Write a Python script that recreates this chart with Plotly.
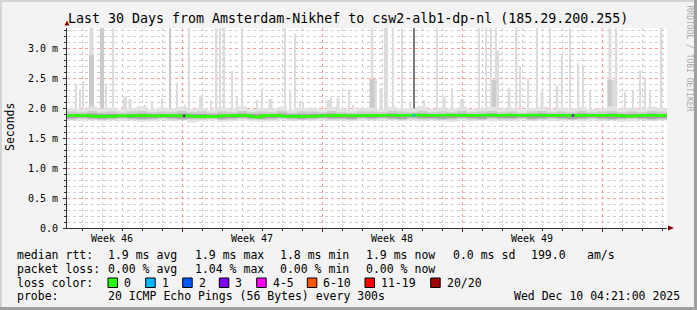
import numpy as np
import plotly.graph_objects as go

# ---------------- data (milliseconds, x in days since window start) ----------------
N_DAYS = 30
# median rtt, 120 bins of 6 hours
median_rtt = [
    1.876, 1.874, 1.877, 1.875, 1.872,
    1.862, 1.860, 1.864, 1.861, 1.863,
    1.870, 1.872, 1.868, 1.873, 1.871,
    1.874, 1.870, 1.872, 1.869, 1.873,
    1.871, 1.874, 1.872, 1.868, 1.870,
    1.858, 1.856, 1.860, 1.857, 1.859,
    1.862, 1.874, 1.876, 1.873, 1.877,
    1.875, 1.872, 1.852, 1.850, 1.874,
    1.877, 1.875, 1.873, 1.863, 1.860,
    1.864, 1.861, 1.859, 1.863, 1.862,
    1.866, 1.874, 1.876, 1.873, 1.877,
    1.875, 1.874, 1.876, 1.872, 1.875,
    1.877, 1.874, 1.876, 1.878, 1.880,
    1.879, 1.877, 1.880, 1.878, 1.881,
    1.879, 1.877, 1.880, 1.878, 1.876,
    1.879, 1.881, 1.878, 1.880, 1.877,
    1.879, 1.876, 1.880, 1.878, 1.881,
    1.879, 1.877, 1.880, 1.882, 1.878,
    1.880, 1.877, 1.879, 1.881, 1.878,
    1.876, 1.879, 1.877, 1.880, 1.878,
    1.876, 1.879, 1.877, 1.875, 1.878,
    1.880, 1.877, 1.879, 1.876, 1.878,
    1.877, 1.866, 1.864, 1.867, 1.875,
    1.877, 1.874, 1.878, 1.876, 1.877,
]

# smoke envelopes, 60 bins of 12 hours
smoke_outer_lo = [
    1.79, 1.78, 1.79, 1.78, 1.79, 1.78, 1.79, 1.77, 1.78, 1.79,
    1.78, 1.79, 1.76, 1.78, 1.79, 1.77, 1.78, 1.79, 1.78, 1.77,
    1.78, 1.79, 1.78, 1.79, 1.78, 1.79, 1.78, 1.79, 1.78, 1.79,
    1.79, 1.78, 1.79, 1.78, 1.79, 1.78, 1.79, 1.78, 1.77, 1.79,
    1.78, 1.79, 1.78, 1.79, 1.78, 1.79, 1.78, 1.79, 1.78, 1.78,
    1.79, 1.78, 1.79, 1.78, 1.79, 1.77, 1.78, 1.79, 1.78, 1.79,
]
smoke_outer_hi = [
    2.00, 1.98, 2.02, 1.99, 2.01, 1.97, 2.00, 2.03, 1.98, 2.01,
    1.99, 2.02, 1.98, 2.00, 1.97, 2.01, 1.99, 2.03, 1.98, 2.00,
    1.99, 2.02, 1.97, 2.00, 2.01, 1.98, 2.02, 1.99, 1.97, 2.00,
    2.01, 1.98, 2.02, 2.00, 1.99, 2.03, 1.98, 2.01, 1.99, 2.02,
    1.98, 2.00, 2.02, 1.99, 2.01, 1.97, 2.00, 2.02, 1.98, 2.01,
    1.99, 2.02, 1.98, 2.00, 2.03, 1.99, 2.01, 1.98, 2.02, 2.00,
]
smoke_mid_lo = [
    1.81, 1.82, 1.81, 1.80, 1.81, 1.82, 1.81, 1.80, 1.81, 1.82,
    1.81, 1.80, 1.81, 1.81, 1.82, 1.80, 1.81, 1.82, 1.81, 1.80,
    1.81, 1.82, 1.81, 1.80, 1.81, 1.82, 1.81, 1.81, 1.80, 1.82,
    1.81, 1.82, 1.81, 1.80, 1.82, 1.81, 1.81, 1.80, 1.81, 1.82,
    1.81, 1.80, 1.82, 1.81, 1.81, 1.82, 1.80, 1.81, 1.82, 1.81,
    1.80, 1.81, 1.82, 1.81, 1.80, 1.81, 1.82, 1.81, 1.80, 1.81,
]
smoke_mid_hi = [
    1.94, 1.93, 1.95, 1.93, 1.94, 1.92, 1.94, 1.95, 1.93, 1.94,
    1.93, 1.95, 1.93, 1.94, 1.92, 1.94, 1.93, 1.95, 1.93, 1.94,
    1.93, 1.95, 1.92, 1.94, 1.94, 1.93, 1.95, 1.93, 1.92, 1.94,
    1.94, 1.93, 1.95, 1.94, 1.93, 1.95, 1.93, 1.94, 1.93, 1.95,
    1.93, 1.94, 1.95, 1.93, 1.94, 1.92, 1.94, 1.95, 1.93, 1.94,
    1.93, 1.95, 1.93, 1.94, 1.95, 1.93, 1.94, 1.93, 1.95, 1.94,
]
smoke_inner_lo = [
    1.83, 1.84, 1.83, 1.82, 1.83, 1.84, 1.83, 1.82, 1.83, 1.84,
    1.83, 1.82, 1.83, 1.83, 1.84, 1.82, 1.83, 1.84, 1.83, 1.82,
    1.83, 1.84, 1.83, 1.82, 1.83, 1.84, 1.83, 1.83, 1.82, 1.84,
    1.83, 1.84, 1.83, 1.82, 1.84, 1.83, 1.83, 1.82, 1.83, 1.84,
    1.83, 1.82, 1.84, 1.83, 1.83, 1.84, 1.82, 1.83, 1.84, 1.83,
    1.82, 1.83, 1.84, 1.83, 1.82, 1.83, 1.84, 1.83, 1.82, 1.83,
]
smoke_inner_hi = [
    1.90, 1.90, 1.91, 1.90, 1.90, 1.89, 1.90, 1.91, 1.90, 1.90,
    1.90, 1.91, 1.90, 1.90, 1.89, 1.90, 1.90, 1.91, 1.90, 1.90,
    1.90, 1.91, 1.89, 1.90, 1.90, 1.90, 1.91, 1.90, 1.89, 1.90,
    1.90, 1.90, 1.91, 1.90, 1.90, 1.91, 1.90, 1.90, 1.90, 1.91,
    1.90, 1.90, 1.91, 1.90, 1.90, 1.89, 1.90, 1.91, 1.90, 1.90,
    1.90, 1.91, 1.90, 1.90, 1.91, 1.90, 1.90, 1.90, 1.91, 1.90,
]

# occasional slow pings (outliers) : position (day), top (ms), duration (day)
spike_day = [0.45, 0.65, 0.78, 1.22, 1.95, 2.30, 2.90, 3.15, 3.90, 4.25, 4.73, 5.15,
             5.50, 5.90, 6.10, 6.65, 6.73, 7.18, 7.48, 7.65, 7.85, 8.27, 8.52, 8.77,
             9.48, 9.77, 10.18, 10.90, 11.15, 11.40, 11.65, 11.80, 13.07, 13.20, 13.55,
             14.10, 14.30, 15.25, 15.32, 15.70, 15.88, 16.00, 16.28, 16.75, 17.15, 17.85,
             18.50, 18.85, 19.23, 19.75, 20.60, 20.95, 21.35, 21.20, 21.45, 21.55, 22.10,
             22.48, 22.65, 23.05, 23.48, 23.75, 24.15, 24.50, 24.73, 25.15, 25.53, 25.80,
             26.15, 27.20, 27.15, 27.48, 27.90, 28.30, 28.65, 28.90, 29.15, 29.70]
spike_top = [2.41, 2.31, 2.45, 3.40, 2.41, 3.40, 2.19, 2.15, 2.05, 2.12, 2.16, 3.40,
             2.42, 2.06, 3.40, 2.19, 2.22, 2.13, 3.40, 3.40, 3.40, 2.62, 2.18, 3.40,
             2.13, 2.27, 2.15, 3.40, 2.27, 3.24, 2.12, 2.10, 2.13, 2.18, 2.17,
             2.31, 2.05, 3.40, 2.48, 2.33, 3.40, 3.40, 3.40, 3.40, 2.10, 2.13,
             3.40, 2.19, 2.33, 2.15, 3.40, 3.40, 2.47, 3.40, 3.40, 2.95, 2.33,
             3.40, 2.69, 2.49, 3.40, 2.27, 3.40, 2.38, 2.88, 3.40, 2.74, 2.69,
             2.30, 2.47, 3.40, 3.40, 2.27, 2.30, 2.63, 2.49, 2.27, 3.40]
spike_len = [0.05, 0.05, 0.05, 0.20, 0.05, 0.07, 0.20, 0.15, 0.05, 0.05, 0.05, 0.08,
             0.07, 0.05, 0.08, 0.05, 0.05, 0.05, 0.07, 0.07, 0.08, 0.06, 0.05, 0.07,
             0.05, 0.05, 0.20, 0.07, 0.05, 0.06, 0.05, 0.05, 0.20, 0.05, 0.15,
             0.05, 0.05, 0.12, 0.35, 0.15, 0.05, 0.05, 0.06, 0.07, 0.05, 0.05,
             0.06, 0.15, 0.05, 0.20, 0.07, 0.07, 0.40, 0.06, 0.06, 0.05, 0.15,
             0.07, 0.05, 0.10, 0.06, 0.15, 0.07, 0.12, 0.05, 0.07, 0.05, 0.05,
             0.10, 0.40, 0.15, 0.07, 0.10, 0.10, 0.05, 0.05, 0.05, 0.12]
# slightly denser outliers
spike2_day = [1.22, 1.75, 5.15, 15.25, 21.35, 27.15]
spike2_top = [2.88, 3.40, 3.40, 2.48, 2.47, 2.47]
spike2_len = [0.25, 0.20, 0.06, 0.25, 0.20, 0.20]
# single-sample outage marker
dark_day = [17.35]
dark_top = [3.40]

# loss-coloured samples on the median line
loss_day = [5.85, 17.35, 25.30]
loss_rtt = [1.870, 1.878, 1.876]
loss_col = ["#4a3a6a", "#00b8ff", "#4a3a8a"]

week_pos = [2.25, 9.25, 16.25, 23.25]
week_lbl = ["Week 46", "Week 47", "Week 48", "Week 49"]
week_bounds = [5.75, 12.75, 19.75, 26.75]
ytick_vals = [0.0, 0.5, 1.0, 1.5, 2.0, 2.5, 3.0]
ytick_text = ["0.0", "0.5 m", "1.0 m", "1.5 m", "2.0 m", "2.5 m", "3.0 m"]

legend_rows = [
    [("median rtt:", 16), ("1.9 ms avg", 107), ("1.9 ms max", 194), ("1.8 ms min", 279),
     ("1.9 ms now", 365), ("0.0 ms sd", 451.5), ("199.0", 530), ("am/s", 586)],
    [("packet loss:", 16), ("0.00 % avg", 107), ("1.04 % max", 194), ("0.00 % min", 279),
     ("0.00 % now", 365)],
    [("loss color:", 16)],
    [("probe:", 16), ("20 ICMP Echo Pings (56 Bytes) every 300s", 107),
     ("Wed Dec 10 04:21:00 2025", 513)],
]
legend_row_y = [255, 268.5, 282.7, 296]
loss_labels = ["0", "1", "2", "3", "4-5", "6-10", "11-19", "20/20"]
loss_colors = ["#26ff00", "#00b8ff", "#0059ff", "#7e00ff", "#ff00ff", "#ff5500", "#ff0000", "#a10000"]
loss_box_x = [108, 145.7, 182.7, 219.3, 256.7, 307.3, 365, 430.7]

# ---------------- geometry helpers ----------------
W, H = 697, 310
PL, PR, PT, PB = 67, 667, 28, 228


def px(x):
    return (x - PL) / (PR - PL)


def py(y):
    return (PB - y) / (PB - PT)


MONO = "DejaVu Sans Mono"

fig = go.Figure()

# outlier bars
base2 = 1.95
fig.add_trace(go.Bar(x=spike_day, y=[t - base2 for t in spike_top], base=base2,
                     width=spike_len, marker=dict(color="#dcdcdc", line=dict(width=0)),
                     hoverinfo="skip"))
fig.add_trace(go.Bar(x=spike2_day, y=[t - base2 for t in spike2_top], base=base2,
                     width=spike2_len, marker=dict(color="#cbcbcb", line=dict(width=0)),
                     hoverinfo="skip"))
fig.add_trace(go.Bar(x=dark_day, y=[t - base2 for t in dark_top], base=base2,
                     width=0.045, marker=dict(color="#7a7a7a", line=dict(width=0)),
                     hoverinfo="skip"))

# smoke bands
n_s = len(smoke_outer_lo)
xs = list(np.linspace(0, N_DAYS, n_s + 1))


def band(lo, hi, color):
    fig.add_trace(go.Scatter(x=xs, y=lo + [lo[-1]], mode="lines", line=dict(width=0, shape="hv"),
                             hoverinfo="skip"))
    fig.add_trace(go.Scatter(x=xs, y=hi + [hi[-1]], mode="lines", line=dict(width=0, shape="hv"),
                             fill="tonexty", fillcolor=color, hoverinfo="skip"))


band(smoke_outer_lo, smoke_outer_hi, "#e2e2e2")
band(smoke_mid_lo, smoke_mid_hi, "#cacaca")
band(smoke_inner_lo, smoke_inner_hi, "#a2a2a2")

# median line
n_m = len(median_rtt)
xm = list(np.linspace(0, N_DAYS, n_m + 1))
fig.add_trace(go.Scatter(x=xm, y=median_rtt + [median_rtt[-1]], mode="lines",
                         line=dict(color="#26ff00", width=2.6, shape="hv"), hoverinfo="skip"))
fig.add_trace(go.Scatter(x=loss_day, y=loss_rtt, mode="markers",
                         marker=dict(color=loss_col, size=2.5, symbol="square", line=dict(width=0)),
                         hoverinfo="skip"))

fig.update_layout(
    width=W, height=H,
    margin=dict(l=PL, r=W - PR, t=PT, b=H - PB),
    paper_bgcolor="#f3f3f3", plot_bgcolor="#ffffff",
    showlegend=False, barmode="overlay",
    font=dict(family=MONO, size=10, color="#000000"),
)
fig.update_xaxes(
    range=[0, N_DAYS], tickmode="array", tickvals=week_bounds, showticklabels=False,
    showgrid=True, gridcolor="#ff9c9c", griddash="dot", gridwidth=1,
    ticks="outside", ticklen=3, tickcolor="#333333",
    showline=True, linecolor="#333333", linewidth=1, zeroline=False,
    minor=dict(tick0=0.75, dtick=1, showgrid=True, gridcolor="#cfcfcf", griddash="dot",
               ticks="outside", ticklen=2, tickcolor="#333333"),
)
fig.update_yaxes(
    range=[0, 3.3333], tickmode="array", tickvals=ytick_vals, ticktext=ytick_text,
    showgrid=True, gridcolor="#ff9c9c", griddash="dot", gridwidth=1,
    ticks="outside", ticklen=3, tickcolor="#333333", ticklabelstandoff=3,
    tickfont=dict(family=MONO, size=10, color="#000000"),
    showline=True, linecolor="#333333", linewidth=1, zeroline=False,
    minor=dict(dtick=0.1, tick0=0, showgrid=True, gridcolor="#cfcfcf", griddash="dot",
               ticks="outside", ticklen=2, tickcolor="#333333"),
)

ann = []
# title
ann.append(dict(text="Last 30 Days from Amsterdam-Nikhef to csw2-alb1-dp-nl (185.29.200.255)",
                x=px(347.5), y=py(18.5), xref="paper", yref="paper", showarrow=False,
                xanchor="center", yanchor="middle", font=dict(family=MONO, size=13.3, color="#000")))
# y title
ann.append(dict(text="Seconds", x=px(10), y=py(127), xref="paper", yref="paper", showarrow=False,
                textangle=-90, xanchor="center", yanchor="middle",
                font=dict(family=MONO, size=11.5, color="#000")))
# watermark
ann.append(dict(text="RRDTOOL / TOBI OETIKER", x=px(689.5), y=py(58), xref="paper", yref="paper",
                showarrow=False, textangle=90, xanchor="center", yanchor="middle",
                font=dict(family=MONO, size=8, color="#a8a8a8")))
# week labels
for pos, lbl in zip(week_pos, week_lbl):
    ann.append(dict(text=lbl, x=pos, y=py(238), xref="x", yref="paper", showarrow=False,
                    xanchor="center", yanchor="middle", font=dict(family=MONO, size=10, color="#000")))
# legend rows
for row, yy in zip(legend_rows, legend_row_y):
    for txt, xx in row:
        ann.append(dict(text=txt, x=px(xx - 1), y=py(yy), xref="paper", yref="paper",
                        showarrow=False, xanchor="left", yanchor="middle",
                        font=dict(family=MONO, size=11.5, color="#000")))
shapes = []
for lbl, col, bx in zip(loss_labels, loss_colors, loss_box_x):
    shapes.append(dict(type="rect", xref="paper", yref="paper",
                       x0=px(bx), x1=px(bx + 9.5), y0=py(287.5), y1=py(278),
                       fillcolor=col, line=dict(color="#000000", width=1)))
    ann.append(dict(text=lbl, x=px(bx + 14), y=py(282.7), xref="paper", yref="paper",
                    showarrow=False, xanchor="left", yanchor="middle",
                    font=dict(family=MONO, size=11.5, color="#000")))

# axis arrows
def path(points):
    return "M " + " L ".join(f"{px(a):.5f},{py(b):.5f}" for a, b in points) + " Z"


shapes.append(dict(type="path", xref="paper", yref="paper",
                   path=path([(64.5, 25.5), (69.5, 25.5), (67, 20.5)]),
                   fillcolor="#8b0000", line=dict(width=0)))
shapes.append(dict(type="path", xref="paper", yref="paper",
                   path=path([(668, 225.5), (668, 230.5), (674, 228)]),
                   fillcolor="#8b0000", line=dict(width=0)))
# 3-D frame of the canvas
shapes.append(dict(type="rect", xref="paper", yref="paper", x0=px(0), x1=px(2), y0=py(310), y1=py(0),
                   fillcolor="#d4d4d4", line=dict(width=0), layer="above"))
shapes.append(dict(type="rect", xref="paper", yref="paper", x0=px(0), x1=px(697), y0=py(2), y1=py(0),
                   fillcolor="#d4d4d4", line=dict(width=0), layer="above"))
shapes.append(dict(type="rect", xref="paper", yref="paper", x0=px(694), x1=px(697), y0=py(310), y1=py(0),
                   fillcolor="#9f9f9f", line=dict(width=0), layer="above"))
shapes.append(dict(type="rect", xref="paper", yref="paper", x0=px(0), x1=px(697), y0=py(310), y1=py(307),
                   fillcolor="#9f9f9f", line=dict(width=0), layer="above"))

fig.update_layout(annotations=ann, shapes=shapes)
fig.write_html("out.html")
